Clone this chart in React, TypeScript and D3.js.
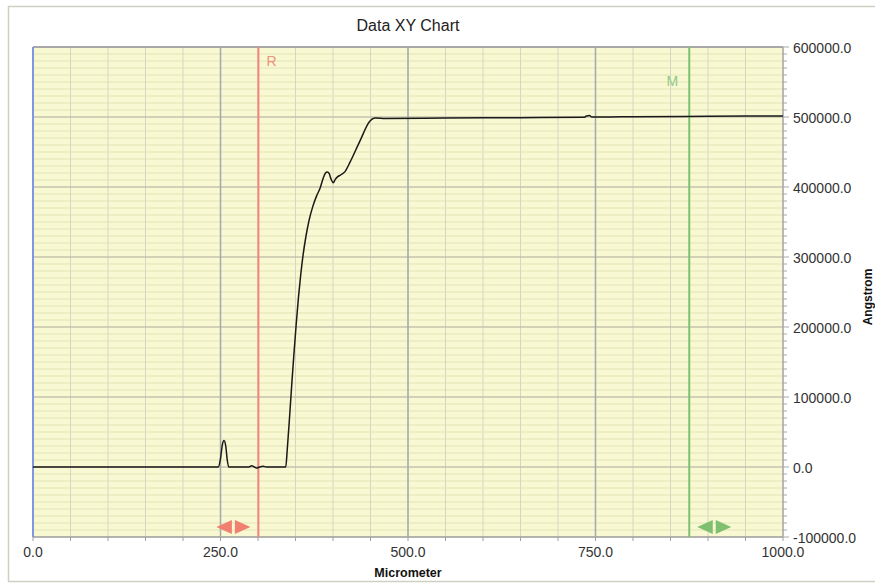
import React from "react";
import * as d3 from "d3";

// Surface profile: horizontal distance (µm) and step height (Å)
const distance = [
  0, 245, 247, 250, 252.5, 254.7, 257, 259, 261, 288, 291.5, 295, 298, 302, 307, 311,
  337, 339, 342, 345, 348, 351, 354, 357, 360, 364, 368, 373, 378, 383, 387, 390, 392.4,
  395, 397.5, 400.4, 403, 406, 410, 416, 422.7, 436, 449, 456, 470, 550, 650, 735, 738,
  742, 745, 760, 800, 900, 1000,
];
const height = [
  0, 0, 0, 12000, 32000, 37700, 30000, 10000, 0, 0, 1800, 0, -1500, 0, 1000, 0,
  0, 25000, 70000, 118000, 163000, 205000, 243000, 275000, 302000, 330000, 352000, 372000, 387000, 399000, 413000, 420000, 421600,
  419000, 411000, 406000, 411000, 414500, 417000, 422000, 435500, 466000, 494000, 498500, 498000, 498500, 499000, 499500, 501500,
  502000, 500000, 500000, 500500, 501000, 501500,
];

const xTicks = [0, 250, 500, 750, 1000];
const yTicks = [-100000, 0, 100000, 200000, 300000, 400000, 500000, 600000];

// Cursor positions (µm)
const cursorR = 300.5;
const cursorM = 875;

const W = 875;
const H = 584;
const L = 33;
const R = 783;
const T = 47;
const B = 537;

export default function App() {
  const x = d3.scaleLinear().domain([0, 1000]).range([L, R]);
  const y = d3.scaleLinear().domain([-100000, 600000]).range([B, T]);

  const pts: [number, number][] = distance.map((d, i) => [d, height[i]]);
  const line = d3
    .line<[number, number]>()
    .x((d) => x(d[0]))
    .y((d) => y(d[1]))
    .curve(d3.curveMonotoneX);

  const minorY = d3.range(-100000, 600001, 10000);
  const minorX = d3.range(0, 1001, 50);
  const font = "'Liberation Sans', Arial, sans-serif";

  const xr = x(cursorR);
  const xm = x(cursorM);
  const my = 527;

  const arrows = (cx: number, color: string) => (
    <g fill={color}>
      <path d={`M${cx - 1.5},${my - 7} L${cx - 17},${my} L${cx - 1.5},${my + 7} Z`} />
      <path d={`M${cx + 1.5},${my - 7} L${cx + 17},${my} L${cx + 1.5},${my + 7} Z`} />
    </g>
  );

  return (
    <svg
      width={W}
      height={H}
      style={{ position: "absolute", left: 0, top: 0, background: "#fff" }}
      fontFamily={font}
    >
      <rect x={8.5} y={6.5} width={900} height={575} fill="#fff" stroke="#cfcfc4" strokeWidth={1.5} />
      <text x={(L + R) / 2} y={31} textAnchor="middle" fontSize={16} fill="#222">
        Data XY Chart
      </text>

      <rect x={L} y={T} width={R - L} height={B - T} fill="#f8f8d2" />

      {/* minor grid */}
      {minorY.map((v) => (
        <line key={"my" + v} x1={L} x2={R} y1={y(v)} y2={y(v)} stroke="#e4e4b6" strokeWidth={1} />
      ))}
      {minorX.map((v) => (
        <line key={"mx" + v} x1={x(v)} x2={x(v)} y1={T} y2={B} stroke="#d6d6c4" strokeWidth={1} />
      ))}
      {/* major grid */}
      {yTicks.map((v) => (
        <line key={"gy" + v} x1={L} x2={R} y1={y(v)} y2={y(v)} stroke="#b4b4a8" strokeWidth={1.2} />
      ))}
      {xTicks.slice(1, -1).map((v) => (
        <line key={"gx" + v} x1={x(v)} x2={x(v)} y1={T} y2={B} stroke="#a4a8ac" strokeWidth={1.5} />
      ))}

      {/* axes */}
      <line x1={L} x2={R} y1={T} y2={T} stroke="#a8a8a8" strokeWidth={2} />
      <line x1={L} x2={R} y1={B} y2={B} stroke="#a8a8a8" strokeWidth={1.5} />
      <line x1={R} x2={R} y1={T} y2={B} stroke="#a8a8a8" strokeWidth={1.5} />
      <line x1={L} x2={L} y1={T} y2={B} stroke="#7f96e0" strokeWidth={2} />

      {minorX.map((v) => (
        <line key={"tx" + v} x1={x(v)} x2={x(v)} y1={B} y2={B + 4} stroke="#a0a0a0" />
      ))}
      {minorY.map((v) => (
        <line
          key={"ty" + v}
          x1={R}
          x2={R + (v % 100000 === 0 ? 6 : 4)}
          y1={y(v)}
          y2={y(v)}
          stroke="#a8a8a8"
        />
      ))}

      {xTicks.map((v) => (
        <text key={"lx" + v} x={x(v)} y={557} textAnchor="middle" fontSize={14} fill="#333">
          {v.toFixed(1)}
        </text>
      ))}
      {yTicks.map((v) => (
        <text key={"ly" + v} x={793} y={y(v) + 5.5} fontSize={14} fill="#333">
          {v.toFixed(1)}
        </text>
      ))}

      <text x={(L + R) / 2} y={577} textAnchor="middle" fontSize={12.5} fontWeight="bold" fill="#111">
        Micrometer
      </text>
      <text
        transform={`translate(871.5,297) rotate(-90)`}
        textAnchor="middle"
        fontSize={12}
        fontWeight="bold"
        fill="#111"
      >
        Angstrom
      </text>

      {/* cursors */}
      <line x1={xr} x2={xr} y1={T} y2={B} stroke="#f0847c" strokeWidth={2} />
      <text x={xr + 8} y={66} fontSize={14} fill="#f0907f">
        R
      </text>
      {arrows(xr - 25, "#f0806f")}

      <line x1={xm} x2={xm} y1={T} y2={B} stroke="#7fbf72" strokeWidth={2} />
      <text x={xm - 11} y={86} fontSize={14} textAnchor="end" fill="#90c888">
        M
      </text>
      {arrows(xm + 25, "#7fc070")}

      <path d={line(pts) ?? ""} fill="none" stroke="#1a1a1a" strokeWidth={1.5} />
    </svg>
  );
}
